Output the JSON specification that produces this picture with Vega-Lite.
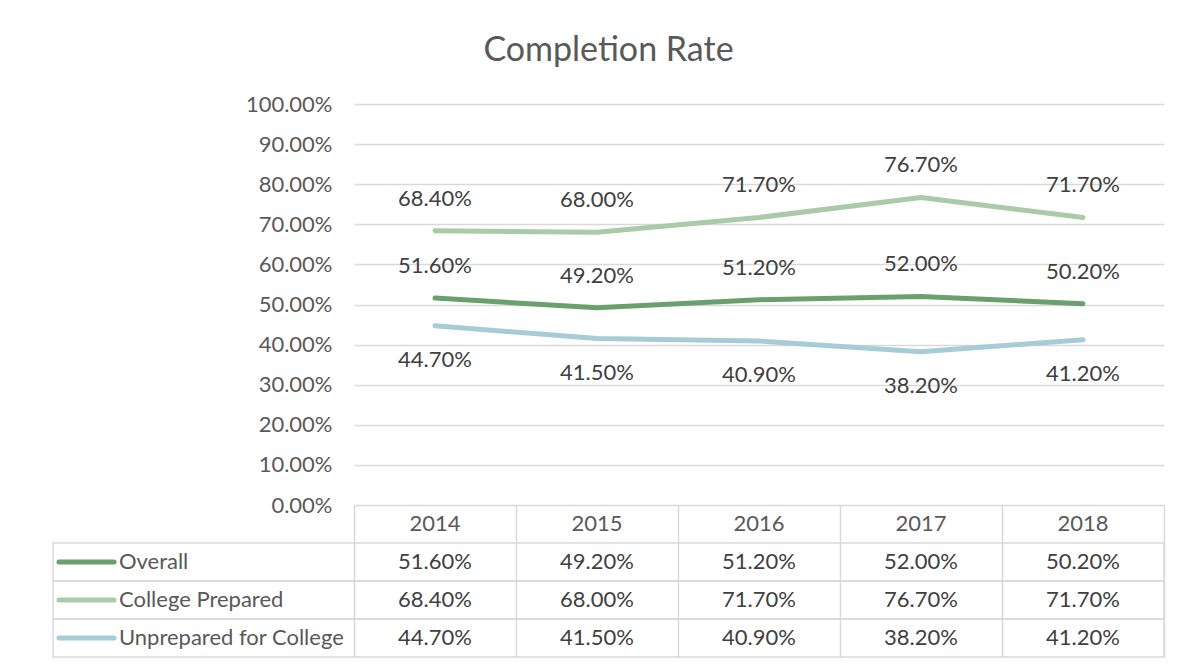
{
  "$schema": "https://vega.github.io/schema/vega-lite/v6.json",
  "padding": {"left": 52, "top": 34, "right": 20, "bottom": 8},
  "background": "white",
  "config": {"view": {"stroke": null}, "font": "Lato", "concat": {"spacing": 0}},
  "title": {"text": "Completion Rate", "fontSize": 34, "font": "Lato", "fontWeight": "normal", "color": "#595959", "anchor": "middle", "offset": 25},
  "datasets": {
    "rates": [
      {"series": "Overall", "year": 2014, "rate": 0.516},
      {"series": "Overall", "year": 2015, "rate": 0.492},
      {"series": "Overall", "year": 2016, "rate": 0.512},
      {"series": "Overall", "year": 2017, "rate": 0.520},
      {"series": "Overall", "year": 2018, "rate": 0.502},
      {"series": "College Prepared", "year": 2014, "rate": 0.684},
      {"series": "College Prepared", "year": 2015, "rate": 0.680},
      {"series": "College Prepared", "year": 2016, "rate": 0.717},
      {"series": "College Prepared", "year": 2017, "rate": 0.767},
      {"series": "College Prepared", "year": 2018, "rate": 0.717},
      {"series": "Unprepared for College", "year": 2014, "rate": 0.447},
      {"series": "Unprepared for College", "year": 2015, "rate": 0.415},
      {"series": "Unprepared for College", "year": 2016, "rate": 0.409},
      {"series": "Unprepared for College", "year": 2017, "rate": 0.382},
      {"series": "Unprepared for College", "year": 2018, "rate": 0.412}
    ]
  },
  "spacing": 0,
  "bounds": "flush",
  "vconcat": [
    {
      "width": 810,
      "height": 401,
      "data": {"name": "rates"},
      "encoding": {
        "x": {"field": "year", "type": "quantitative", "scale": {"domain": [2013.5, 2018.5]}, "axis": null},
        "y": {"field": "rate", "type": "quantitative", "scale": {"domain": [0, 1]},
          "axis": {"format": ".2%", "values": [0, 0.1, 0.2, 0.3, 0.4, 0.5, 0.6, 0.7, 0.8, 0.9, 1], "grid": true, "gridColor": "#d9d9d9", "gridWidth": 1.5, "domain": false, "ticks": false, "labelFontSize": 22, "labelColor": "#595959", "labelPadding": 22, "title": null, "labelFont": "Lato"}},
        "color": {"field": "series", "type": "nominal", "scale": {"domain": ["Overall", "College Prepared", "Unprepared for College"], "range": ["#6a9f6e", "#a9cba9", "#a6ccd6"]}, "legend": null}
      },
      "layer": [
        {"mark": {"type": "line", "strokeWidth": 5, "strokeCap": "round", "strokeJoin": "round"}},
        {"transform": [{"filter": "datum.series == 'College Prepared' || datum.series == 'Overall'"}],
          "mark": {"type": "text", "dy": -32, "fontSize": 22, "font": "Lato"},
          "encoding": {"text": {"field": "rate", "format": ".2%"}, "color": {"value": "#404040"}}},
        {"transform": [{"filter": "datum.series == 'Unprepared for College'"}],
          "mark": {"type": "text", "dy": 34, "fontSize": 22, "font": "Lato"},
          "encoding": {"text": {"field": "rate", "format": ".2%"}, "color": {"value": "#404040"}}}
      ]
    },
    {
      "width": 810,
      "height": 152,
      "data": {"name": "rates"},
      "layer": [
        {
          "transform": [{"aggregate": [{"op": "count", "as": "n"}], "groupby": ["series"]}],
          "mark": {"type": "rect", "fillOpacity": 0, "stroke": "#d9d9d9", "strokeWidth": 1.5},
          "encoding": {
            "x": {"datum": 2011.642, "type": "quantitative"},
            "x2": {"datum": 2018.5},
            "y": {"field": "series", "type": "nominal"}
          }
        },
        {
          "transform": [{"aggregate": [{"op": "count", "as": "n"}], "groupby": ["series"]}],
          "mark": {"type": "rule", "strokeWidth": 5, "strokeCap": "round"},
          "encoding": {
            "x": {"datum": 2011.679, "type": "quantitative"},
            "x2": {"datum": 2012.019},
            "y": {"field": "series", "type": "nominal"},
            "color": {"field": "series", "type": "nominal", "scale": {"domain": ["Overall", "College Prepared", "Unprepared for College"], "range": ["#6a9f6e", "#a9cba9", "#a6ccd6"]}, "legend": null}
          }
        },
        {
          "transform": [{"aggregate": [{"op": "count", "as": "n"}], "groupby": ["series"]}],
          "mark": {"type": "text", "align": "left", "fontSize": 22, "font": "Lato", "color": "#595959"},
          "encoding": {
            "x": {"datum": 2012.049, "type": "quantitative"},
            "y": {"field": "series", "type": "nominal"},
            "text": {"field": "series"}
          }
        },
        {
          "transform": [{"filter": "datum.series == 'Overall'"}],
          "mark": {"type": "text", "fontSize": 22, "font": "Lato", "color": "#595959"},
          "encoding": {
            "x": {"field": "year", "type": "quantitative"},
            "y": {"datum": "Year", "type": "nominal"},
            "text": {"field": "year", "type": "nominal"}
          }
        },
        {
          "mark": {"type": "text", "fontSize": 22, "font": "Lato", "color": "#404040"},
          "encoding": {
            "x": {"field": "year", "type": "quantitative"},
            "y": {"field": "series", "type": "nominal"},
            "text": {"field": "rate", "format": ".2%"}
          }
        }
      ],
      "encoding": {
        "x": {"type": "quantitative", "scale": {"domain": [2013.5, 2018.5]},
          "axis": {"values": [2013.5, 2014.5, 2015.5, 2016.5, 2017.5, 2018.5], "grid": true, "gridColor": "#d9d9d9", "gridWidth": 1.5, "labels": false, "ticks": false, "domain": false, "title": null}},
        "y": {"type": "nominal", "scale": {"domain": ["Year", "Overall", "College Prepared", "Unprepared for College"], "paddingInner": 0, "paddingOuter": 0}, "axis": null}
      }
    }
  ]
}
